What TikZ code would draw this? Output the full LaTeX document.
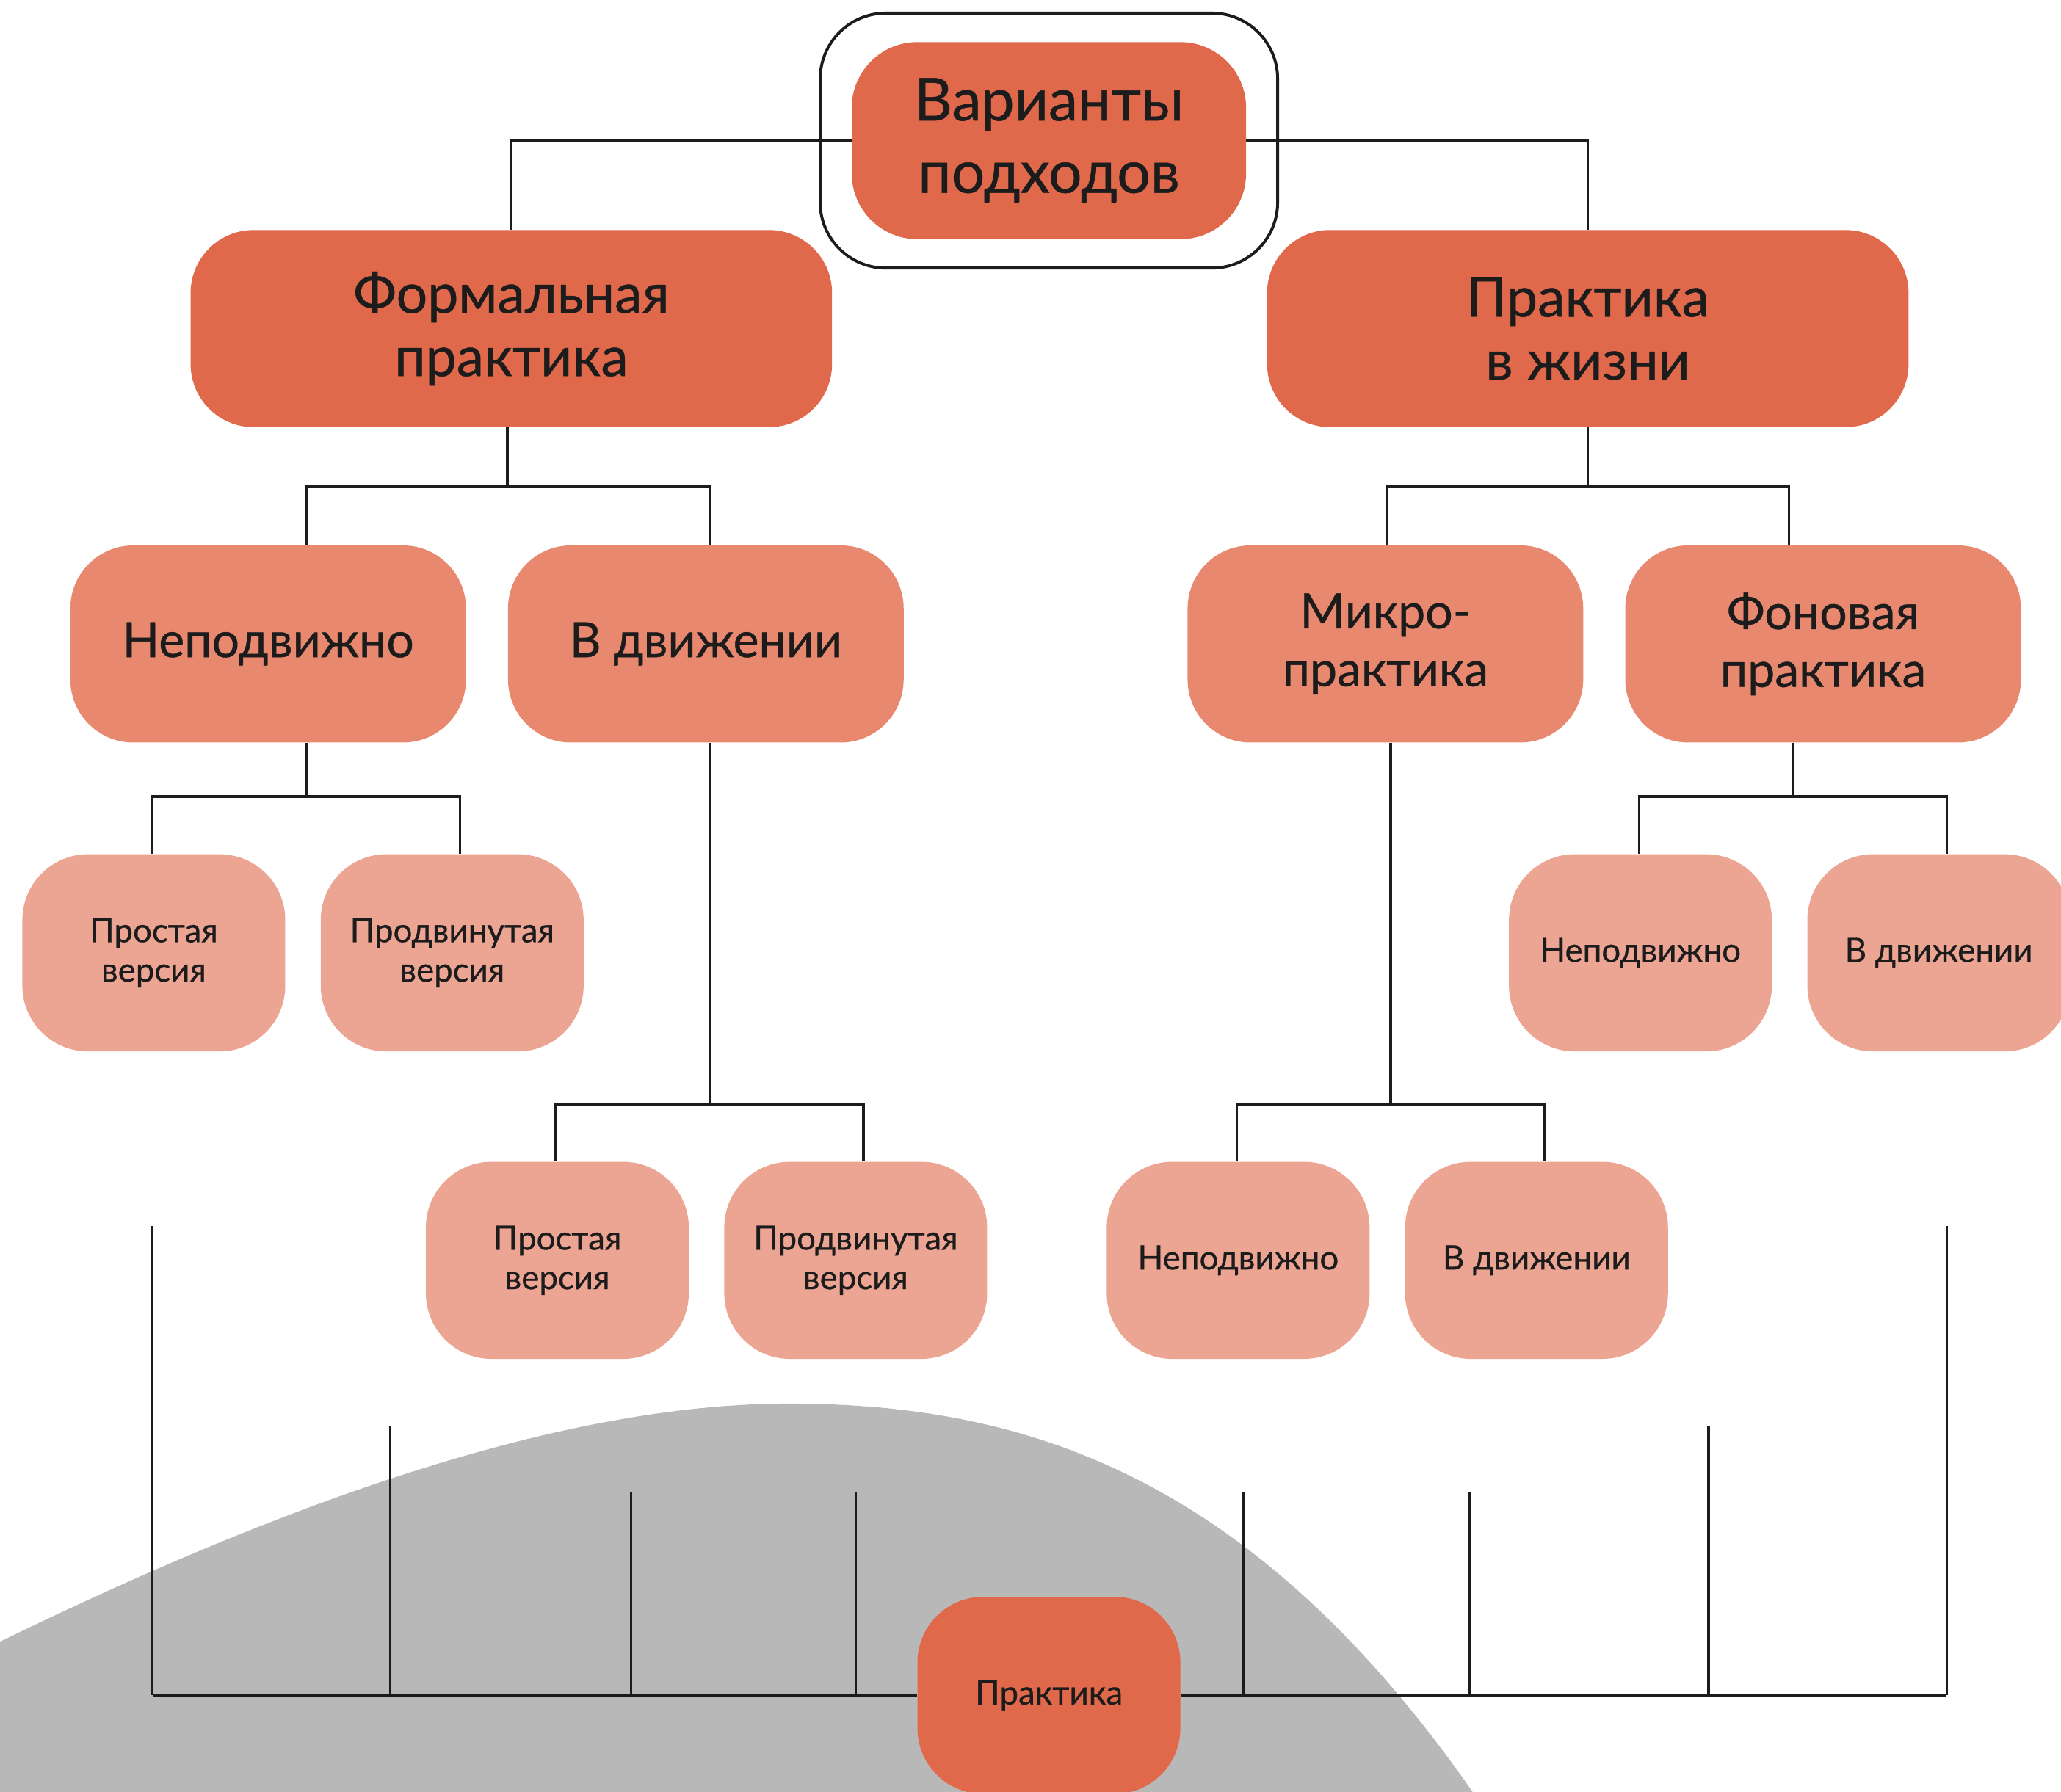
\documentclass[tikz,border=0pt]{standalone}
\usepackage{fontspec}
\setmainfont{Lato}[FakeBold=0.6]
\pgfdeclarelayer{hill}
\pgfdeclarelayer{wires}
\pgfsetlayers{hill,wires,main}
\definecolor{cdark}{HTML}{E0694C}
\definecolor{cmid}{HTML}{E8886F}
\definecolor{clight}{HTML}{EDA593}
\definecolor{hillgray}{HTML}{B8B8B8}
\definecolor{ink}{HTML}{1C1C1C}
\begin{document}
\begin{tikzpicture}[x=1pt,y=1pt,
  box/.style={align=center, text=ink, inner sep=0pt, minimum height=150pt},
  rootbox/.style={box, fill=cdark, rounded corners=50pt, minimum width=300pt, font=\fontsize{45}{55}\selectfont},
  framebox/.style={draw=ink, line width=2.2pt, rounded corners=50pt, minimum width=348pt, minimum height=194pt, inner sep=0pt},
  bigbox/.style={box, fill=cdark, rounded corners=48pt, minimum width=488pt, font=\fontsize{42}{48}\selectfont},
  midbox/.style={box, fill=cmid, rounded corners=48pt, minimum width=301pt, font=\fontsize{37}{44}\selectfont},
  smallbox/.style={box, fill=clight, rounded corners=50pt, minimum width=200pt, font=\fontsize{25.5}{30}\selectfont},
  practbox/.style={box, fill=cdark, rounded corners=50pt, minimum width=200pt, font=\fontsize{25.5}{30}\selectfont},
  wire/.style={draw=ink, line width=2pt},
  bar/.style={draw=ink, line width=2.8pt},
]
\useasboundingbox (0,0) rectangle (1568,-1363);
\clip (0,0) rectangle (1568,-1363);

% background hill
\begin{pgfonlayer}{hill}
\fill[hillgray] (-20,-1259) .. controls (200,-1150) and (420,-1068) .. (600,-1068)
  .. controls (780,-1068) and (960,-1122) .. (1135,-1385) -- (-20,-1385) -- cycle;
\end{pgfonlayer}

% nodes
\node[framebox] (frame) at (798,-107) {};
\node[rootbox] (root) at (798,-107) {Варианты\\подходов};
\node[bigbox] (f) at (389,-250) {Формальная\\практика};
\node[bigbox] (p) at (1208,-250) {Практика\\в жизни};
\node[midbox] (n1) at (204,-490) {Неподвижно};
\node[midbox] (n2) at (537,-490) {В движении};
\node[midbox] (n3) at (1054,-490) {Микро-\\практика};
\node[midbox] (n4) at (1387,-490) {Фоновая\\практика};
\node[smallbox] (a1) at (117,-725) {Простая\\версия};
\node[smallbox] (a2) at (344,-725) {Продвинутая\\версия};
\node[smallbox] (a3) at (1248,-725) {Неподвижно};
\node[smallbox] (a4) at (1475,-725) {В движении};
\node[smallbox] (b1) at (424,-959) {Простая\\версия};
\node[smallbox] (b2) at (651,-959) {Продвинутая\\версия};
\node[smallbox] (b3) at (942,-959) {Неподвижно};
\node[smallbox] (b4) at (1169,-959) {В движении};
\node[practbox] (pr) at (798,-1290) {Практика};

% free ends of the bottom comb
\coordinate (v1) at (116,-933);
\coordinate (v2) at (297,-1085);
\coordinate (v3) at (480,-1135);
\coordinate (v4) at (651,-1135);
\coordinate (v5) at (946,-1135);
\coordinate (v6) at (1118,-1135);
\coordinate (v7) at (1300,-1085);
\coordinate (v8) at (1481,-933);
\coordinate (bl) at (116,-1290);
\coordinate (brr) at (1481,-1290);

\begin{pgfonlayer}{wires}
\draw[wire] (f.north) |- (root.center) -| (p.north);
% Formal practice
\draw[wire] ([xshift=-3pt]f.south) -- ++(0,-45) coordinate (fj);
\draw[wire] ([xshift=29pt]n1.north) |- (fj) -| ([xshift=3pt]n2.north);
% Practice in life
\draw[wire] (p.south) -- ++(0,-45) coordinate (pj);
\draw[wire] ([xshift=1pt]n3.north) |- (pj) -| ([xshift=-26pt]n4.north);
% level 3 to level 4/5
\draw[wire] ([xshift=29pt]n1.south) -- ++(0,-41) coordinate (n1j);
\draw[wire] ([xshift=-1pt]a1.north) |- (n1j) -| ([xshift=6pt]a2.north);
\draw[wire] ([xshift=3pt]n2.south) -- ++(0,-275) coordinate (n2j);
\draw[wire] ([xshift=-1pt]b1.north) |- (n2j) -| ([xshift=6pt]b2.north);
\draw[wire] ([xshift=4pt]n3.south) -- ++(0,-275) coordinate (n3j);
\draw[wire] ([xshift=-1pt]b3.north) |- (n3j) -| ([xshift=6pt]b4.north);
\draw[wire] ([xshift=-23pt]n4.south) -- ++(0,-41) coordinate (n4j);
\draw[wire] ([xshift=-1pt]a3.north) |- (n4j) -| ([xshift=6pt]a4.north);
% bottom comb
\foreach \v in {v1,v2,v3,v4,v5,v6,v7,v8} {\draw[wire] (\v) -- (\v |- bl);}
\draw[bar] (bl) -- (pr.west);
\draw[bar] (pr.east) -- (brr);
\end{pgfonlayer}
\end{tikzpicture}
\end{document}
